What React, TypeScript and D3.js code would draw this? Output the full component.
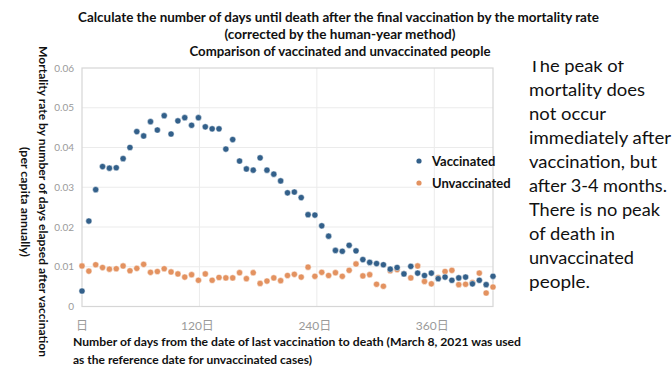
import { scaleLinear } from 'd3';

// weekly points, day 0 .. day 420
const days: number[] = Array.from({ length: 61 }, (_, i) => i * 7);

const vaccinated: number[] = [
  0.0039, 0.0215, 0.0294, 0.0352, 0.0348, 0.0349, 0.0372, 0.04, 0.044, 0.0429,
  0.0465, 0.0444, 0.048, 0.0434, 0.0467, 0.0475, 0.0456, 0.0475, 0.0452, 0.0447,
  0.0447, 0.0396, 0.042, 0.0366, 0.0346, 0.0343, 0.0374, 0.0343, 0.0333, 0.0316,
  0.0286, 0.0288, 0.0274, 0.0231, 0.023, 0.0203, 0.0177, 0.0141, 0.0139, 0.0154,
  0.014, 0.0118, 0.0111, 0.0108, 0.0105, 0.0094, 0.0098, 0.0082, 0.0101, 0.0084,
  0.0078, 0.0084, 0.007, 0.0074, 0.0066, 0.0072, 0.0074, 0.0057, 0.0066, 0.0055,
  0.0076,
];

const unvaccinated: number[] = [
  0.0102, 0.0089, 0.0105, 0.0098, 0.0094, 0.0095, 0.0102, 0.009, 0.0096, 0.0106,
  0.0086, 0.0088, 0.0095, 0.0087, 0.0082, 0.0074, 0.008, 0.0066, 0.0082, 0.0066,
  0.0073, 0.0072, 0.0072, 0.0085, 0.007, 0.0085, 0.0058, 0.0064, 0.0072, 0.0065,
  0.0078, 0.0081, 0.0074, 0.0099, 0.0076, 0.0086, 0.0078, 0.0085, 0.0076, 0.0091,
  0.0107, 0.0077, 0.008, 0.0056, 0.0051, 0.009, 0.0093, 0.0082, 0.0072, 0.0102,
  0.0063, 0.0057, 0.0073, 0.0088, 0.0091, 0.0055, 0.0056, 0.006, 0.0084, 0.0034,
  0.0049,
];

const yTicks: number[] = [0, 0.01, 0.02, 0.03, 0.04, 0.05, 0.06];
const yTickLabels: string[] = ['0', '0.01', '0.02', '0.03', '0.04', '0.05', '0.06'];
const xTicks: number[] = [0, 120, 240, 360];
const xTickLabels: string[] = ['日', '120日', '240日', '360日'];

const titleLines: string[] = [
  'Calculate the number of days until death after the final vaccination by the mortality rate',
  '(corrected by the human-year method)',
  'Comparison of vaccinated and unvaccinated people',
];
const noteLines: string[] = [
  'The peak of',
  'mortality does',
  'not occur',
  'immediately after',
  'vaccination, but',
  'after 3-4 months.',
  'There is no peak',
  'of death in',
  'unvaccinated',
  'people.',
];
// measured line widths in the reference (px)
const noteWidths: number[] = [95, 116, 77, 142, 128, 138, 131, 86, 105, 61];

const FONT = "Lato, 'Open Sans', 'Noto Sans CJK JP', sans-serif";
const BLUE = '#33608a';
const ORANGE = '#e39260';

const App = () => {
  const x = scaleLinear().domain([0, 420]).range([82, 493]);
  const y = scaleLinear().domain([0, 0.06]).range([306.5, 68]);

  return (
    <svg width={672} height={372} style={{ position: 'absolute', left: 0, top: 0, background: '#fff' }}>
      <defs>
        <clipPath id="noteClip">
          <rect x={500} y={61} width={172} height={300} />
        </clipPath>
      </defs>
      <rect width={672} height={372} fill="#fff" />

      {/* title */}
      <g fontFamily={FONT} fontWeight="bold" fill="#111" textAnchor="middle">
        <text x={338.5} y={22} fontSize={13} textLength={521} lengthAdjust="spacingAndGlyphs">{titleLines[0]}</text>
        <text x={340} y={39} fontSize={13} textLength={231} lengthAdjust="spacingAndGlyphs">{titleLines[1]}</text>
        <text x={340} y={56} fontSize={13} textLength={301} lengthAdjust="spacingAndGlyphs">{titleLines[2]}</text>
      </g>

      {/* grid */}
      <g stroke="#ebebeb" strokeWidth={1}>
        {yTicks.slice(1, -1).map((t) => (
          <line key={'gy' + t} x1={x(0)} x2={x(420)} y1={y(t)} y2={y(t)} />
        ))}
        {xTicks.slice(1).map((t) => (
          <line key={'gx' + t} x1={x(t)} x2={x(t)} y1={y(0)} y2={y(0.06)} />
        ))}
      </g>
      <rect x={x(0)} y={y(0.06)} width={x(420) - x(0)} height={y(0) - y(0.06)} fill="none" stroke="#d6d6d6" strokeWidth={1.2} />

      {/* y ticks */}
      <g fontFamily={FONT} fontSize={10} fill="#9a9a9a" textAnchor="end">
        {yTicks.map((t, i) => (
          <text key={'yt' + t} x={74} y={y(t)} dy="0.35em">{yTickLabels[i]}</text>
        ))}
      </g>
      {/* x ticks */}
      <g fontFamily={FONT} fontSize={12} fill="#9a9a9a" textAnchor="middle">
        {xTicks.map((t, i) => (
          <text key={'xt' + t} x={x(t) - (i === 0 ? 0 : 2)} y={330}>{xTickLabels[i]}</text>
        ))}
      </g>

      {/* points */}
      <g stroke="#fff" strokeOpacity={0.6} strokeWidth={0.8}>
        {days.map((d, i) => (
          <circle key={'u' + d} cx={x(d)} cy={y(unvaccinated[i])} r={3.1} fill={ORANGE} />
        ))}
        {days.map((d, i) => (
          <circle key={'v' + d} cx={x(d)} cy={y(vaccinated[i])} r={3.1} fill={BLUE} />
        ))}
      </g>

      {/* legend */}
      <g fontFamily={FONT} fontWeight="bold" fontSize={13} fill="#111">
        <circle cx={419} cy={161} r={2.6} fill={BLUE} />
        <text x={432} y={161} dy="0.35em">Vaccinated</text>
        <circle cx={419} cy={183} r={2.6} fill={ORANGE} />
        <text x={432} y={183} dy="0.35em">Unvaccinated</text>
      </g>

      {/* y axis title */}
      <g fontFamily={FONT} fontWeight="bold" fontSize={12} fill="#111" textAnchor="middle">
        <text transform="translate(43,201.5) rotate(90)" dominantBaseline="central" textLength={311} lengthAdjust="spacingAndGlyphs">
          Mortality rate by number of days elapsed after vaccination
        </text>
        <text transform="translate(25,202) rotate(90)" dominantBaseline="central" textLength={110} lengthAdjust="spacingAndGlyphs">
          (per capita annually)
        </text>
      </g>

      {/* x axis title */}
      <g fontFamily={FONT} fontWeight="bold" fontSize={12} fill="#111">
        <text x={73} y={346} textLength={448} lengthAdjust="spacingAndGlyphs">
          Number of days from the date of last vaccination to death (March 8, 2021 was used
        </text>
        <text x={73} y={364} textLength={239} lengthAdjust="spacingAndGlyphs">
          as the reference date for unvaccinated cases)
        </text>
      </g>

      {/* side note */}
      <g clipPath="url(#noteClip)" fontFamily={FONT} fontSize={18} fill="#111">
        {noteLines.map((s, i) => (
          <text key={s} x={529} y={72 + i * 24} textLength={noteWidths[i]} lengthAdjust="spacingAndGlyphs">{s}</text>
        ))}
      </g>
    </svg>
  );
};

export default App;
